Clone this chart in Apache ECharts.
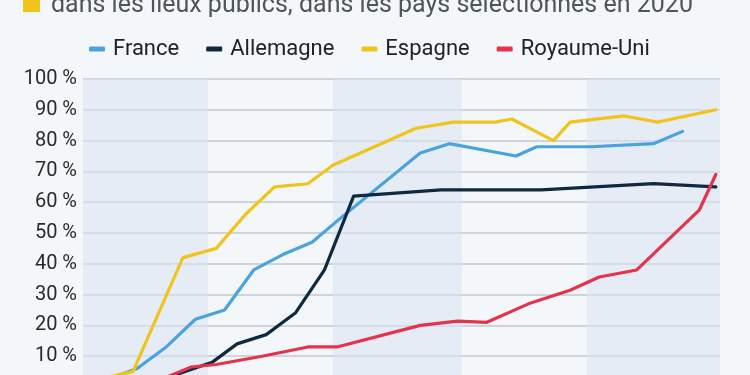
<!DOCTYPE html>
<html>
<head>
<meta charset="utf-8">
<script src="https://cdn.jsdelivr.net/npm/echarts@6/dist/echarts.min.js"></script>
<style>
html,body{margin:0;padding:0;background:#f4f7fa;overflow:hidden;}
#chart{width:750px;height:375px;}
</style>
</head>
<body>
<div id="chart"></div>
<script>
const titleText = 'dans les lieux publics, dans les pays sélectionnés en 2020';
const seriesNames = ['France', 'Allemagne', 'Espagne', 'Royaume-Uni'];

const franceDates = ['2020-03-06','2020-03-14','2020-03-21','2020-03-28','2020-04-04','2020-04-11','2020-04-18','2020-04-25','2020-05-02','2020-05-21','2020-05-28','2020-06-13','2020-06-18','2020-07-01','2020-07-16','2020-07-23'];
const franceValues = [2, 6, 13, 22, 25, 38, 43, 47, 55, 76, 79, 75, 78, 78, 79, 83];

const allemagneDates = ['2020-03-19','2020-04-01','2020-04-07','2020-04-14','2020-04-21','2020-04-28','2020-05-05','2020-05-26','2020-06-19','2020-07-16','2020-07-31'];
const allemagneValues = [2, 8, 14, 17, 24, 38, 62, 64, 64, 66, 65];

const espagneDates = ['2020-03-03','2020-03-13','2020-03-25','2020-04-02','2020-04-09','2020-04-16','2020-04-24','2020-04-30','2020-05-20','2020-05-29','2020-06-08','2020-06-12','2020-06-22','2020-06-26','2020-07-09','2020-07-17','2020-07-31'];
const espagneValues = [2, 5, 42, 45, 56, 65, 66, 72, 84, 86, 86, 87, 80, 86, 88, 86, 90];

const ruDates = ['2020-03-19','2020-03-27','2020-04-02','2020-04-13','2020-04-24','2020-05-01','2020-05-21','2020-05-30','2020-06-06','2020-06-16','2020-06-26','2020-07-03','2020-07-12','2020-07-27','2020-07-31'];
const ruValues = [2, 6.5, 7.3, 10, 13, 13, 20, 21.4, 21, 27, 31.4, 35.7, 38, 57.4, 69];

const bandStarts = ['2020-03-01','2020-04-30','2020-06-30'];
const bandEnds = ['2020-03-31','2020-05-31','2020-08-01'];

const xMin = '2020-03-01';
const xMax = '2020-08-01';
const yTicks = [0, 10, 20, 30, 40, 50, 60, 70, 80, 90, 100];

const colors = ['#4aa3df', '#0e2a40', '#f0c41b', '#e5334c'];

function pairs(d, v) { return d.map((x, i) => [x, v[i]]); }

const chart = echarts.init(document.getElementById('chart'), null, {renderer: 'canvas'});
const lineSeries = [
  [franceDates, franceValues],
  [allemagneDates, allemagneValues],
  [espagneDates, espagneValues],
  [ruDates, ruValues]
].map((p, i) => ({
  name: seriesNames[i],
  type: 'line',
  data: pairs(p[0], p[1]),
  showSymbol: false,
  symbol: 'none',
  z: 3,
  lineStyle: {width: 3.2, color: colors[i], join: 'round', cap: 'round'},
  itemStyle: {color: colors[i]},
  emphasis: {disabled: true}
}));

chart.setOption({
  backgroundColor: '#f4f7fa',
  animation: false,
  graphic: [
    {type: 'rect', left: 23, top: -6, shape: {width: 17, height: 18}, style: {fill: '#f0c41b'}},
    {type: 'text', left: 51, top: -7, style: {text: titleText, font: '25px Roboto', fill: '#50555b'}}
  ],
  legend: {
    data: seriesNames,
    top: 33,
    left: 84,
    icon: 'roundRect',
    itemWidth: 16,
    itemHeight: 5,
    itemGap: 27,
    textStyle: {fontFamily: 'Roboto', fontSize: 22, color: '#222', padding: [0, 0, 0, 3]}
  },
  grid: {left: 83, right: 30, top: 79, bottom: -12, containLabel: false, outerBoundsMode: 'none'},
  xAxis: {
    type: 'time',
    min: xMin,
    max: xMax,
    axisLine: {show: false},
    axisTick: {show: false},
    axisLabel: {show: false},
    splitLine: {show: false}
  },
  yAxis: {
    type: 'value',
    min: yTicks[0],
    max: yTicks[yTicks.length - 1],
    interval: 10,
    axisLine: {show: false},
    axisTick: {show: false},
    axisLabel: {formatter: '{value} %', fontFamily: 'Roboto', fontSize: 20, color: '#2a2a2a', margin: 6},
    splitLine: {lineStyle: {color: '#c3c8ce', width: 1.5}}
  },
  series: [
    {
      name: 'bands',
      type: 'line',
      data: [],
      z: 1,
      silent: true,
      markArea: {
        silent: true,
        itemStyle: {color: 'rgba(218,228,242,0.55)'},
        data: bandStarts.map((s, i) => [{xAxis: s}, {xAxis: bandEnds[i]}])
      }
    }
  ].concat(lineSeries)
});
</script>
</body>
</html>
